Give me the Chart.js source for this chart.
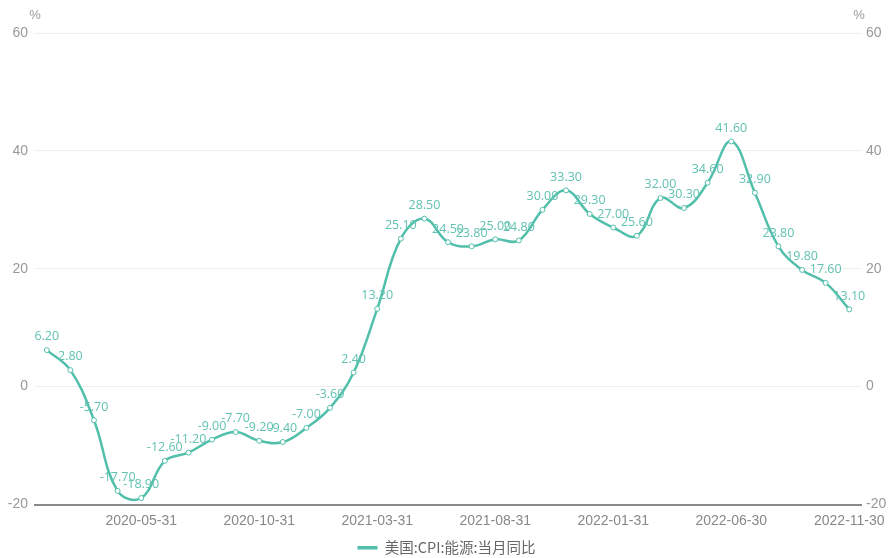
<!DOCTYPE html>
<html>
<head>
<meta charset="utf-8">
<script src="https://cdn.jsdelivr.net/npm/chart.js@4"></script>
<style>
  html, body { margin: 0; padding: 0; background: #fff; }
  #wrap { width: 893px; height: 558px; }
</style>
</head>
<body>
<div id="wrap"><canvas id="c" width="893" height="558"></canvas></div>
<script>
// Month-end dates, Jan 2020 – Nov 2022
const months = [
  '2020-01-31','2020-02-29','2020-03-31','2020-04-30','2020-05-31','2020-06-30',
  '2020-07-31','2020-08-31','2020-09-30','2020-10-31','2020-11-30','2020-12-31',
  '2021-01-31','2021-02-28','2021-03-31','2021-04-30','2021-05-31','2021-06-30',
  '2021-07-31','2021-08-31','2021-09-30','2021-10-31','2021-11-30','2021-12-31',
  '2022-01-31','2022-02-28','2022-03-31','2022-04-30','2022-05-31','2022-06-30',
  '2022-07-31','2022-08-31','2022-09-30','2022-10-31','2022-11-30'
];

// US CPI energy, year-on-year change (%)
const energyYoY = [
  6.2, 2.8, -5.7, -17.7, -18.9, -12.6,
  -11.2, -9.0, -7.7, -9.2, -9.4, -7.0,
  -3.6, 2.4, 13.2, 25.1, 28.5, 24.5,
  23.8, 25.0, 24.8, 30.0, 33.3, 29.3,
  27.0, 25.6, 32.0, 30.3, 34.6, 41.6,
  32.9, 23.8, 19.8, 17.6, 13.1
];

const seriesName = '美国:CPI:能源:当月同比';
const yTicks = [-20, 0, 20, 40, 60];
const unitLabel = '%';

const teal = '#52bfab';
const labelTeal = '#62c2b2';
const axisFont = '"Liberation Sans", Arial, sans-serif';

// value labels above each point plus the unit captions over both axes
const overlay = {
  id: 'overlay',
  afterDatasetsDraw(chart) {
    const ctx = chart.ctx;
    const meta = chart.getDatasetMeta(0);
    ctx.save();
    ctx.font = '12.5px "Open Sans", sans-serif';
    ctx.fillStyle = labelTeal;
    ctx.textAlign = 'center';
    ctx.textBaseline = 'bottom';
    meta.data.forEach((pt, i) => {
      ctx.fillText(energyYoY[i].toFixed(2), pt.x, pt.y - 7);
    });
    ctx.fillStyle = '#999';
    ctx.font = '13px ' + axisFont;
    ctx.textBaseline = 'middle';
    ctx.fillText(unitLabel, chart.chartArea.left, 15);
    ctx.fillText(unitLabel, chart.chartArea.right - 2, 15);
    ctx.restore();
  }
};

new Chart(document.getElementById('c'), {
  type: 'line',
  data: {
    labels: months,
    datasets: [{
      label: seriesName,
      data: energyYoY,
      yAxisID: 'y',
      borderColor: teal,
      backgroundColor: teal,
      borderWidth: 2.5,
      tension: 0.4,
      pointRadius: 2.5,
      pointBorderWidth: 1,
      pointBackgroundColor: '#fff',
      pointBorderColor: teal,
      fill: false
    }]
  },
  options: {
    responsive: false,
    animation: false,
    layout: { padding: { top: 33, bottom: -7 } },
    plugins: {
      legend: {
        position: 'bottom',
        labels: {
          usePointStyle: true,
          pointStyle: 'line',
          pointStyleWidth: 20,
          color: '#666',
          padding: 3,
          font: { size: 14.5, family: '"Noto Sans CJK SC", sans-serif' },
          generateLabels(chart) {
            const items = Chart.defaults.plugins.legend.labels.generateLabels(chart);
            items.forEach(it => { it.lineWidth = 3.5; it.strokeStyle = teal; });
            return items;
          }
        }
      },
      tooltip: { enabled: false }
    },
    scales: {
      x: {
        type: 'category',
        offset: true,
        grid: { display: false, drawTicks: false },
        border: { display: true, color: '#8a8a8a', width: 2 },
        ticks: {
          autoSkip: false,
          maxRotation: 0,
          color: '#888',
          padding: 8,
          font: { size: 14, family: axisFont },
          callback: function (v, i) { return i % 5 === 4 ? months[i] : ''; }
        },
        afterFit(s) { s.height = 33; }
      },
      y: {
        position: 'left',
        min: -20, max: 60,
        afterBuildTicks(s) { s.ticks = yTicks.map(v => ({ value: v })); },
        grid: { color: '#eeeeee', drawTicks: false },
        border: { display: false },
        ticks: { color: '#999', padding: 7, font: { size: 14, family: axisFont } },
        afterFit(s) { s.width = 35; }
      },
      y2: {
        position: 'right',
        min: -20, max: 60,
        afterBuildTicks(s) { s.ticks = yTicks.map(v => ({ value: v })); },
        grid: { display: false, drawTicks: false },
        border: { display: false },
        ticks: { color: '#999', padding: 5, font: { size: 14, family: axisFont } },
        afterFit(s) { s.width = 31; }
      }
    }
  },
  plugins: [overlay]
});
</script>
</body>
</html>
